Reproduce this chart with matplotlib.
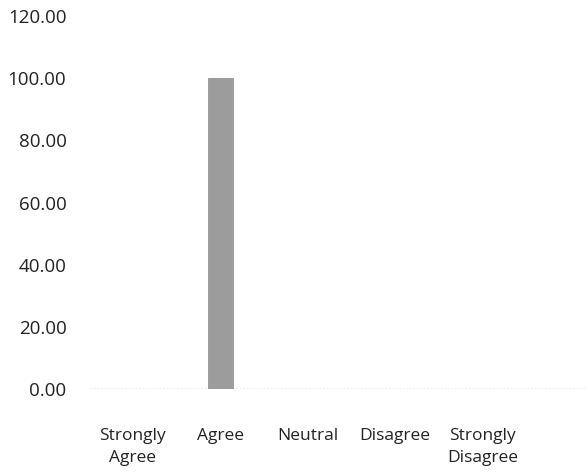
import matplotlib
matplotlib.use("Agg")
import matplotlib.pyplot as plt

categories = ["Strongly\nAgree", "Agree", "Neutral", "Disagree", "Strongly\nDisagree"]
values = [0, 100, 0, 0, 0]
yticks = [0, 20, 40, 60, 80, 100, 120]

plt.rcParams['font.family'] = ['Open Sans', 'DejaVu Sans']

fig = plt.figure(figsize=(5.87, 4.72), dpi=100)
ax = fig.add_axes([90/587, (472-389)/472, (585-90)/587, (389-16)/472])

x = list(range(len(categories)))
ax.bar(x, values, width=0.29, color="#9c9c9c", edgecolor="#8a8a8a", linewidth=0.5, zorder=2)
ax.axhline(0, color="#999999", linestyle=(0, (1, 1.5)), linewidth=1.0, zorder=1)

ax.set_xlim(-0.49, 5.17)
ax.set_ylim(0, 120)
ax.set_yticks(yticks)
ax.set_yticklabels([f"{v:.2f}" for v in yticks], fontsize=13.5, color="#222222")
ax.set_xticks(x)
ax.set_xticklabels(categories, fontsize=12.5, color="#222222", linespacing=1.5, va="top")
ax.tick_params(axis="y", length=0, pad=17)
ax.tick_params(axis="x", length=0, pad=28)
for s in ax.spines.values():
    s.set_visible(False)

fig.savefig("out.png", dpi=100)
